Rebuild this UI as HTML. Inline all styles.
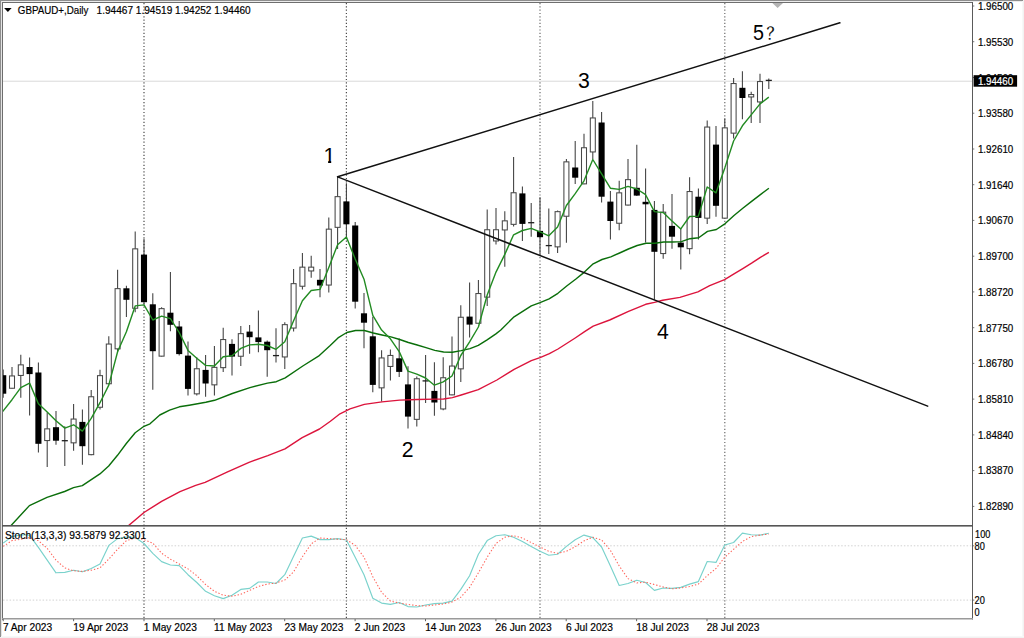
<!DOCTYPE html>
<html lang="en"><head><meta charset="utf-8"><title>GBPAUD+ Daily</title>
<style>
html,body{margin:0;padding:0;background:#fff;}
body{width:1024px;height:638px;overflow:hidden;}
svg{display:block;}
text{font-family:"Liberation Sans","Noto Sans CJK JP",sans-serif;fill:#000;}
.s{font-size:10.2px;stroke:#000;stroke-width:0.18px;}
.big{font-size:21.2px;}
.q{font-family:"Noto Serif CJK SC","Liberation Serif",serif;font-size:16px;stroke:#000;stroke-width:0.25px;}
</style></head><body>
<svg width="1024" height="638" viewBox="0 0 1024 638">
<rect x="0" y="0" width="1024" height="638" fill="#fff"/>

<rect x="1022" y="0" width="1" height="638" fill="#f8f8f8"/><rect x="1023" y="0" width="1" height="638" fill="#f2f2f2"/>
<rect x="0" y="636" width="1024" height="1" fill="#f8f8f8"/><rect x="0" y="637" width="1024" height="1" fill="#f2f2f2"/>
<rect x="0" y="0" width="1023" height="1" fill="#8e8e8e"/>
<rect x="0" y="0" width="1" height="637" fill="#8e8e8e"/>
<rect x="1" y="1" width="1021" height="1" fill="#ececec"/>
<rect x="1" y="1" width="1" height="635" fill="#e4e4e4"/>
<rect x="2" y="2" width="971" height="1" fill="#6e6e6e"/>
<rect x="2" y="2" width="1" height="618" fill="#6e6e6e"/>
<rect x="972" y="2" width="1" height="617.5" fill="#5a5a5a"/>
<rect x="2" y="618" width="971" height="1.5" fill="#9a9a9a"/>
<rect x="2" y="525" width="971" height="1.6" fill="#555"/>
<defs><clipPath id="cm"><rect x="3" y="3" width="969" height="522"/></clipPath><clipPath id="cs"><rect x="3" y="527" width="969" height="91"/></clipPath></defs>
<rect x="3" y="80.7" width="969" height="1" fill="#d9d9d9"/>
<line x1="144.0" y1="3" x2="144.0" y2="618" stroke="#4a4a4a" stroke-width="1.2" stroke-dasharray="1.2 2.1"/>
<line x1="346.4" y1="3" x2="346.4" y2="618" stroke="#4a4a4a" stroke-width="1.2" stroke-dasharray="1.2 2.1"/>
<line x1="540.0" y1="3" x2="540.0" y2="618" stroke="#6a6a6a" stroke-width="1.2" stroke-dasharray="1.2 2.1"/>
<line x1="724.8" y1="3" x2="724.8" y2="618" stroke="#6a6a6a" stroke-width="1.2" stroke-dasharray="1.2 2.1"/>
<line x1="3" y1="545.8" x2="972" y2="545.8" stroke="#d2d2d2" stroke-width="1" stroke-dasharray="1.5 1.8"/>
<line x1="3" y1="600.1" x2="972" y2="600.1" stroke="#d2d2d2" stroke-width="1" stroke-dasharray="1.5 1.8"/>
<g clip-path="url(#cm)">
<line x1="3.2" y1="369.4" x2="3.2" y2="397.8" stroke="#3d3d3d" stroke-width="1.05"/>
<rect x="0.15" y="375.2" width="6.1" height="18.5" fill="#000"/>
<line x1="12.0" y1="367" x2="12.0" y2="388.6" stroke="#3d3d3d" stroke-width="1.05"/>
<rect x="9.50" y="375.95" width="5.00" height="12.3" fill="#fff" stroke="#474747" stroke-width="1.05"/>
<line x1="20.8" y1="354.7" x2="20.8" y2="397.8" stroke="#3d3d3d" stroke-width="1.05"/>
<rect x="18.30" y="364.85" width="5.00" height="10.6" fill="#fff" stroke="#474747" stroke-width="1.05"/>
<line x1="29.6" y1="357.6" x2="29.6" y2="415.4" stroke="#3d3d3d" stroke-width="1.05"/>
<rect x="26.55" y="367.0" width="6.1" height="7.1" fill="#000"/>
<line x1="38.4" y1="362.5" x2="38.4" y2="452.4" stroke="#3d3d3d" stroke-width="1.05"/>
<rect x="35.35" y="372.5" width="6.1" height="71.3" fill="#000"/>
<line x1="47.2" y1="412.5" x2="47.2" y2="467" stroke="#3d3d3d" stroke-width="1.05"/>
<rect x="44.70" y="428.85" width="5.00" height="11.7" fill="#fff" stroke="#474747" stroke-width="1.05"/>
<line x1="56.0" y1="410.9" x2="56.0" y2="444.8" stroke="#3d3d3d" stroke-width="1.05"/>
<rect x="52.95" y="427.2" width="6.1" height="13.5" fill="#000"/>
<line x1="64.8" y1="426.2" x2="64.8" y2="466" stroke="#3d3d3d" stroke-width="1.05"/>
<line x1="61.75" y1="440.7" x2="67.85" y2="440.7" stroke="#1e1e1e" stroke-width="1.3"/>
<line x1="73.6" y1="404" x2="73.6" y2="450.7" stroke="#3d3d3d" stroke-width="1.05"/>
<rect x="71.10" y="419.05" width="5.00" height="23.8" fill="#fff" stroke="#474747" stroke-width="1.05"/>
<line x1="82.4" y1="409.5" x2="82.4" y2="464.7" stroke="#3d3d3d" stroke-width="1.05"/>
<rect x="79.35" y="421.9" width="6.1" height="24.3" fill="#000"/>
<line x1="91.2" y1="390" x2="91.2" y2="455.3" stroke="#3d3d3d" stroke-width="1.05"/>
<rect x="88.70" y="396.75" width="5.00" height="57.9" fill="#fff" stroke="#474747" stroke-width="1.05"/>
<line x1="100.0" y1="369.8" x2="100.0" y2="409.5" stroke="#3d3d3d" stroke-width="1.05"/>
<rect x="97.50" y="375.65" width="5.00" height="31.6" fill="#fff" stroke="#474747" stroke-width="1.05"/>
<line x1="108.8" y1="336.3" x2="108.8" y2="384.1" stroke="#3d3d3d" stroke-width="1.05"/>
<rect x="106.30" y="344.05" width="5.00" height="39.7" fill="#fff" stroke="#474747" stroke-width="1.05"/>
<line x1="117.6" y1="269.7" x2="117.6" y2="352" stroke="#3d3d3d" stroke-width="1.05"/>
<rect x="115.10" y="288.65" width="5.00" height="60.2" fill="#fff" stroke="#474747" stroke-width="1.05"/>
<line x1="126.4" y1="285.7" x2="126.4" y2="317" stroke="#3d3d3d" stroke-width="1.05"/>
<rect x="123.35" y="288.3" width="6.1" height="11.5" fill="#000"/>
<line x1="135.2" y1="231.5" x2="135.2" y2="312.2" stroke="#3d3d3d" stroke-width="1.05"/>
<rect x="132.70" y="248.85" width="5.00" height="59.4" fill="#fff" stroke="#474747" stroke-width="1.05"/>
<line x1="144.0" y1="238.7" x2="144.0" y2="304.3" stroke="#3d3d3d" stroke-width="1.05"/>
<rect x="140.95" y="254.6" width="6.1" height="47.6" fill="#000"/>
<line x1="152.8" y1="293.2" x2="152.8" y2="389.7" stroke="#3d3d3d" stroke-width="1.05"/>
<rect x="149.75" y="304.3" width="6.1" height="46.9" fill="#000"/>
<line x1="161.6" y1="307.3" x2="161.6" y2="356.5" stroke="#3d3d3d" stroke-width="1.05"/>
<rect x="159.10" y="308.65" width="5.00" height="47.5" fill="#fff" stroke="#474747" stroke-width="1.05"/>
<line x1="170.4" y1="272" x2="170.4" y2="331.3" stroke="#3d3d3d" stroke-width="1.05"/>
<rect x="167.35" y="312.7" width="6.1" height="12.1" fill="#000"/>
<line x1="179.2" y1="321" x2="179.2" y2="355.5" stroke="#3d3d3d" stroke-width="1.05"/>
<rect x="176.15" y="326.5" width="6.1" height="27.6" fill="#000"/>
<line x1="188.0" y1="341.5" x2="188.0" y2="395.5" stroke="#3d3d3d" stroke-width="1.05"/>
<rect x="184.95" y="355.6" width="6.1" height="33.3" fill="#000"/>
<line x1="196.8" y1="357.3" x2="196.8" y2="395.4" stroke="#3d3d3d" stroke-width="1.05"/>
<rect x="194.30" y="368.75" width="5.00" height="25.1" fill="#fff" stroke="#474747" stroke-width="1.05"/>
<line x1="205.6" y1="354.9" x2="205.6" y2="396.8" stroke="#3d3d3d" stroke-width="1.05"/>
<rect x="202.55" y="369.9" width="6.1" height="13.6" fill="#000"/>
<line x1="214.4" y1="346" x2="214.4" y2="395.4" stroke="#3d3d3d" stroke-width="1.05"/>
<rect x="211.90" y="367.35" width="5.00" height="17.5" fill="#fff" stroke="#474747" stroke-width="1.05"/>
<line x1="223.2" y1="327.8" x2="223.2" y2="371.9" stroke="#3d3d3d" stroke-width="1.05"/>
<rect x="220.70" y="339.55" width="5.00" height="28.1" fill="#fff" stroke="#474747" stroke-width="1.05"/>
<line x1="232.0" y1="339.3" x2="232.0" y2="375.4" stroke="#3d3d3d" stroke-width="1.05"/>
<rect x="228.95" y="343.9" width="6.1" height="12.7" fill="#000"/>
<line x1="240.8" y1="325.9" x2="240.8" y2="366" stroke="#3d3d3d" stroke-width="1.05"/>
<rect x="238.30" y="333.65" width="5.00" height="22.6" fill="#fff" stroke="#474747" stroke-width="1.05"/>
<line x1="249.6" y1="324.9" x2="249.6" y2="353.7" stroke="#3d3d3d" stroke-width="1.05"/>
<rect x="246.55" y="331.6" width="6.1" height="5.6" fill="#000"/>
<line x1="258.4" y1="310.6" x2="258.4" y2="352.3" stroke="#3d3d3d" stroke-width="1.05"/>
<rect x="255.35" y="337.4" width="6.1" height="4.7" fill="#000"/>
<line x1="267.2" y1="340.4" x2="267.2" y2="376.8" stroke="#3d3d3d" stroke-width="1.05"/>
<rect x="264.15" y="341.7" width="6.1" height="8.5" fill="#000"/>
<line x1="276.0" y1="328.2" x2="276.0" y2="362.6" stroke="#3d3d3d" stroke-width="1.05"/>
<line x1="272.95" y1="355.6" x2="279.05" y2="355.6" stroke="#1e1e1e" stroke-width="1.3"/>
<line x1="284.8" y1="322.3" x2="284.8" y2="369" stroke="#3d3d3d" stroke-width="1.05"/>
<rect x="282.30" y="324.65" width="5.00" height="32.3" fill="#fff" stroke="#474747" stroke-width="1.05"/>
<line x1="293.6" y1="269" x2="293.6" y2="331.6" stroke="#3d3d3d" stroke-width="1.05"/>
<rect x="291.10" y="283.65" width="5.00" height="44.4" fill="#fff" stroke="#474747" stroke-width="1.05"/>
<line x1="302.4" y1="252.9" x2="302.4" y2="289.4" stroke="#3d3d3d" stroke-width="1.05"/>
<rect x="299.90" y="267.15" width="5.00" height="19.1" fill="#fff" stroke="#474747" stroke-width="1.05"/>
<line x1="311.2" y1="255.7" x2="311.2" y2="277.8" stroke="#3d3d3d" stroke-width="1.05"/>
<rect x="308.70" y="267.15" width="5.00" height="3.8" fill="#fff" stroke="#474747" stroke-width="1.05"/>
<line x1="320.0" y1="269" x2="320.0" y2="297.2" stroke="#3d3d3d" stroke-width="1.05"/>
<rect x="316.95" y="279.8" width="6.1" height="5.7" fill="#000"/>
<line x1="328.8" y1="217.5" x2="328.8" y2="292.5" stroke="#3d3d3d" stroke-width="1.05"/>
<rect x="326.30" y="229.15" width="5.00" height="55.9" fill="#fff" stroke="#474747" stroke-width="1.05"/>
<line x1="337.6" y1="176.9" x2="337.6" y2="249" stroke="#3d3d3d" stroke-width="1.05"/>
<rect x="335.10" y="196.65" width="5.00" height="30.7" fill="#fff" stroke="#474747" stroke-width="1.05"/>
<line x1="346.4" y1="183.2" x2="346.4" y2="237" stroke="#3d3d3d" stroke-width="1.05"/>
<rect x="343.35" y="201.4" width="6.1" height="22.9" fill="#000"/>
<line x1="355.2" y1="222" x2="355.2" y2="308.6" stroke="#3d3d3d" stroke-width="1.05"/>
<rect x="352.15" y="225.5" width="6.1" height="76.2" fill="#000"/>
<line x1="364.0" y1="292.9" x2="364.0" y2="348.3" stroke="#3d3d3d" stroke-width="1.05"/>
<rect x="360.95" y="313.3" width="6.1" height="9.4" fill="#000"/>
<line x1="372.8" y1="316.8" x2="372.8" y2="392.3" stroke="#3d3d3d" stroke-width="1.05"/>
<rect x="369.75" y="336.3" width="6.1" height="48.6" fill="#000"/>
<line x1="381.6" y1="350.2" x2="381.6" y2="401.5" stroke="#3d3d3d" stroke-width="1.05"/>
<rect x="379.10" y="357.95" width="5.00" height="29.9" fill="#fff" stroke="#474747" stroke-width="1.05"/>
<line x1="390.4" y1="349.6" x2="390.4" y2="380.5" stroke="#3d3d3d" stroke-width="1.05"/>
<rect x="387.90" y="355.45" width="5.00" height="11.0" fill="#fff" stroke="#474747" stroke-width="1.05"/>
<line x1="399.2" y1="338.6" x2="399.2" y2="377" stroke="#3d3d3d" stroke-width="1.05"/>
<rect x="396.15" y="358.3" width="6.1" height="13.6" fill="#000"/>
<line x1="408.0" y1="366.2" x2="408.0" y2="428.5" stroke="#3d3d3d" stroke-width="1.05"/>
<rect x="404.95" y="384.4" width="6.1" height="32.2" fill="#000"/>
<line x1="416.8" y1="376.4" x2="416.8" y2="426.4" stroke="#3d3d3d" stroke-width="1.05"/>
<rect x="414.30" y="378.75" width="5.00" height="40.6" fill="#fff" stroke="#474747" stroke-width="1.05"/>
<line x1="425.6" y1="354.9" x2="425.6" y2="402.9" stroke="#3d3d3d" stroke-width="1.05"/>
<line x1="422.55" y1="380.9" x2="428.65" y2="380.9" stroke="#1e1e1e" stroke-width="1.3"/>
<line x1="434.4" y1="362.3" x2="434.4" y2="415.8" stroke="#3d3d3d" stroke-width="1.05"/>
<rect x="431.35" y="390.9" width="6.1" height="11.6" fill="#000"/>
<line x1="443.2" y1="357.3" x2="443.2" y2="410.3" stroke="#3d3d3d" stroke-width="1.05"/>
<rect x="440.70" y="377.75" width="5.00" height="31.2" fill="#fff" stroke="#474747" stroke-width="1.05"/>
<line x1="452.0" y1="336.5" x2="452.0" y2="395.2" stroke="#3d3d3d" stroke-width="1.05"/>
<rect x="449.50" y="366.05" width="5.00" height="28.8" fill="#fff" stroke="#474747" stroke-width="1.05"/>
<line x1="460.8" y1="305.3" x2="460.8" y2="381.9" stroke="#3d3d3d" stroke-width="1.05"/>
<rect x="458.30" y="317.25" width="5.00" height="51.6" fill="#fff" stroke="#474747" stroke-width="1.05"/>
<line x1="469.6" y1="282.5" x2="469.6" y2="337.6" stroke="#3d3d3d" stroke-width="1.05"/>
<rect x="466.55" y="316.6" width="6.1" height="8.0" fill="#000"/>
<line x1="478.4" y1="279.9" x2="478.4" y2="323.6" stroke="#3d3d3d" stroke-width="1.05"/>
<rect x="475.90" y="293.55" width="5.00" height="29.7" fill="#fff" stroke="#474747" stroke-width="1.05"/>
<line x1="487.2" y1="209.4" x2="487.2" y2="306" stroke="#3d3d3d" stroke-width="1.05"/>
<rect x="484.70" y="229.75" width="5.00" height="67.4" fill="#fff" stroke="#474747" stroke-width="1.05"/>
<line x1="496.0" y1="208" x2="496.0" y2="244.6" stroke="#3d3d3d" stroke-width="1.05"/>
<rect x="493.50" y="229.75" width="5.00" height="11.2" fill="#fff" stroke="#474747" stroke-width="1.05"/>
<line x1="504.8" y1="211.3" x2="504.8" y2="266.8" stroke="#3d3d3d" stroke-width="1.05"/>
<rect x="502.30" y="220.85" width="5.00" height="9.1" fill="#fff" stroke="#474747" stroke-width="1.05"/>
<line x1="513.6" y1="156.9" x2="513.6" y2="226.6" stroke="#3d3d3d" stroke-width="1.05"/>
<rect x="511.10" y="192.75" width="5.00" height="31.6" fill="#fff" stroke="#474747" stroke-width="1.05"/>
<line x1="522.4" y1="186.4" x2="522.4" y2="241.1" stroke="#3d3d3d" stroke-width="1.05"/>
<rect x="519.35" y="193.4" width="6.1" height="30.5" fill="#000"/>
<line x1="531.2" y1="202.9" x2="531.2" y2="236.8" stroke="#3d3d3d" stroke-width="1.05"/>
<line x1="528.15" y1="222.7" x2="534.25" y2="222.7" stroke="#1e1e1e" stroke-width="1.3"/>
<line x1="540.0" y1="197.2" x2="540.0" y2="254.4" stroke="#3d3d3d" stroke-width="1.05"/>
<rect x="536.95" y="230.9" width="6.1" height="6.3" fill="#000"/>
<line x1="548.8" y1="208.4" x2="548.8" y2="254" stroke="#3d3d3d" stroke-width="1.05"/>
<line x1="545.75" y1="245.6" x2="551.85" y2="245.6" stroke="#1e1e1e" stroke-width="1.3"/>
<line x1="557.6" y1="210.4" x2="557.6" y2="252.9" stroke="#3d3d3d" stroke-width="1.05"/>
<rect x="555.10" y="211.65" width="5.00" height="35.2" fill="#fff" stroke="#474747" stroke-width="1.05"/>
<line x1="566.4" y1="159.1" x2="566.4" y2="242.7" stroke="#3d3d3d" stroke-width="1.05"/>
<rect x="563.90" y="161.85" width="5.00" height="54.4" fill="#fff" stroke="#474747" stroke-width="1.05"/>
<line x1="575.2" y1="140.9" x2="575.2" y2="184" stroke="#3d3d3d" stroke-width="1.05"/>
<rect x="572.15" y="167.5" width="6.1" height="10.2" fill="#000"/>
<line x1="584.0" y1="133.7" x2="584.0" y2="184.3" stroke="#3d3d3d" stroke-width="1.05"/>
<rect x="581.50" y="147.75" width="5.00" height="36.1" fill="#fff" stroke="#474747" stroke-width="1.05"/>
<line x1="592.8" y1="101" x2="592.8" y2="159" stroke="#3d3d3d" stroke-width="1.05"/>
<rect x="590.30" y="117.95" width="5.00" height="34.0" fill="#fff" stroke="#474747" stroke-width="1.05"/>
<line x1="601.6" y1="112.1" x2="601.6" y2="202.5" stroke="#3d3d3d" stroke-width="1.05"/>
<rect x="598.55" y="122.5" width="6.1" height="74.2" fill="#000"/>
<line x1="610.4" y1="191" x2="610.4" y2="239.6" stroke="#3d3d3d" stroke-width="1.05"/>
<rect x="607.35" y="201.6" width="6.1" height="19.4" fill="#000"/>
<line x1="619.2" y1="180.8" x2="619.2" y2="230.3" stroke="#3d3d3d" stroke-width="1.05"/>
<rect x="616.70" y="192.85" width="5.00" height="30.4" fill="#fff" stroke="#474747" stroke-width="1.05"/>
<line x1="628.0" y1="159.1" x2="628.0" y2="205.4" stroke="#3d3d3d" stroke-width="1.05"/>
<rect x="625.50" y="179.65" width="5.00" height="25.4" fill="#fff" stroke="#474747" stroke-width="1.05"/>
<line x1="636.8" y1="144.8" x2="636.8" y2="196" stroke="#3d3d3d" stroke-width="1.05"/>
<rect x="633.75" y="187.8" width="6.1" height="7.8" fill="#000"/>
<line x1="645.6" y1="168.5" x2="645.6" y2="242.6" stroke="#3d3d3d" stroke-width="1.05"/>
<rect x="642.55" y="201.8" width="6.1" height="2.5" fill="#000"/>
<line x1="654.4" y1="201.1" x2="654.4" y2="299.8" stroke="#3d3d3d" stroke-width="1.05"/>
<rect x="651.35" y="209.9" width="6.1" height="41.9" fill="#000"/>
<line x1="663.2" y1="204" x2="663.2" y2="258.8" stroke="#3d3d3d" stroke-width="1.05"/>
<rect x="660.70" y="212.15" width="5.00" height="41.4" fill="#fff" stroke="#474747" stroke-width="1.05"/>
<line x1="672.0" y1="194" x2="672.0" y2="248.8" stroke="#3d3d3d" stroke-width="1.05"/>
<rect x="668.95" y="225.9" width="6.1" height="10.8" fill="#000"/>
<line x1="680.8" y1="227.9" x2="680.8" y2="269.6" stroke="#3d3d3d" stroke-width="1.05"/>
<rect x="677.75" y="242.6" width="6.1" height="4.7" fill="#000"/>
<line x1="689.6" y1="177.2" x2="689.6" y2="254.3" stroke="#3d3d3d" stroke-width="1.05"/>
<rect x="687.10" y="191.55" width="5.00" height="57.1" fill="#fff" stroke="#474747" stroke-width="1.05"/>
<line x1="698.4" y1="188.6" x2="698.4" y2="239.6" stroke="#3d3d3d" stroke-width="1.05"/>
<rect x="695.35" y="196.7" width="6.1" height="21.2" fill="#000"/>
<line x1="707.2" y1="120.4" x2="707.2" y2="224" stroke="#3d3d3d" stroke-width="1.05"/>
<rect x="704.70" y="127.05" width="5.00" height="91.1" fill="#fff" stroke="#474747" stroke-width="1.05"/>
<line x1="716.0" y1="126" x2="716.0" y2="216.7" stroke="#3d3d3d" stroke-width="1.05"/>
<rect x="712.95" y="144.6" width="6.1" height="61.2" fill="#000"/>
<line x1="724.8" y1="118.4" x2="724.8" y2="218.5" stroke="#3d3d3d" stroke-width="1.05"/>
<rect x="722.30" y="127.85" width="5.00" height="90.3" fill="#fff" stroke="#474747" stroke-width="1.05"/>
<line x1="733.6" y1="78.1" x2="733.6" y2="138.5" stroke="#3d3d3d" stroke-width="1.05"/>
<rect x="731.10" y="83.55" width="5.00" height="49.6" fill="#fff" stroke="#474747" stroke-width="1.05"/>
<line x1="742.4" y1="71.3" x2="742.4" y2="119.2" stroke="#3d3d3d" stroke-width="1.05"/>
<rect x="739.35" y="87.8" width="6.1" height="10.2" fill="#000"/>
<line x1="751.2" y1="91.8" x2="751.2" y2="123" stroke="#3d3d3d" stroke-width="1.05"/>
<rect x="748.70" y="94.55" width="5.00" height="2.4" fill="#fff" stroke="#474747" stroke-width="1.05"/>
<line x1="760.0" y1="73.8" x2="760.0" y2="123" stroke="#3d3d3d" stroke-width="1.05"/>
<rect x="757.50" y="81.55" width="5.00" height="20.4" fill="#fff" stroke="#474747" stroke-width="1.05"/>
<line x1="768.8" y1="78.5" x2="768.8" y2="89" stroke="#3d3d3d" stroke-width="1.05"/>
<line x1="765.75" y1="80.4" x2="771.85" y2="80.4" stroke="#1e1e1e" stroke-width="1.3"/>
<polyline fill="none" stroke="#dc143c" stroke-width="1.4" stroke-linejoin="round" points="120.0,534.0 128.3,525.8 144.0,512.5 161.6,501.3 180.0,491.7 195.7,485.4 205.1,482.3 227.0,472.1 249.0,462.4 267.8,455.6 285.0,448.9 302.2,437.6 319.5,429.0 330.4,421.2 340.0,413.8 350.0,408.9 364.3,404.4 382.0,401.9 399.6,400.1 417.2,399.5 434.8,399.1 443.6,399.0 452.4,397.6 461.2,395.0 478.3,389.7 496.9,380.0 514.1,369.3 531.3,360.7 540.0,357.6 549.4,353.7 558.0,349.0 575.2,338.0 584.6,331.7 593.2,326.2 609.7,320.0 628.5,311.3 645.7,304.3 654.5,302.4 662.7,300.2 679.9,297.4 697.9,291.9 709.7,285.7 724.6,279.6 734.0,273.9 742.8,268.6 751.6,263.1 760.4,257.3 768.9,252.4"/>
<polyline fill="none" stroke="#0a6e0a" stroke-width="1.4" stroke-linejoin="round" points="-2.0,541.0 3.0,534.0 10.8,525.8 29.4,505.6 47.0,497.4 64.6,491.5 73.5,487.6 82.3,485.6 99.9,473.9 108.7,466.0 117.5,455.3 126.3,443.5 135.2,432.7 144.0,426.3 150.0,423.8 159.8,415.0 169.6,410.1 179.4,406.8 189.2,405.2 205.8,402.3 214.6,400.3 232.3,393.5 249.9,387.6 267.5,383.1 276.3,381.7 285.2,377.8 302.8,366.0 318.5,356.2 330.2,345.5 338.0,337.9 346.8,332.5 355.6,330.5 364.4,330.5 373.2,333.0 382.0,335.0 390.9,336.9 399.7,339.5 408.4,342.5 417.2,345.0 426.0,347.7 434.8,350.4 443.6,352.0 452.4,352.3 461.2,350.6 470.0,348.6 478.3,345.3 487.1,339.8 495.9,333.9 500.8,330.0 514.1,316.8 531.3,305.9 540.0,302.7 549.1,298.9 557.9,293.3 566.7,286.0 575.6,279.2 584.4,272.1 593.2,263.8 602.0,259.5 610.8,256.8 619.6,253.0 628.4,249.0 637.2,245.5 646.0,243.3 654.8,243.2 663.7,242.0 672.5,242.0 681.3,241.6 689.9,238.7 698.7,237.7 707.5,231.4 716.4,229.5 725.2,223.6 734.0,215.5 742.8,208.3 751.6,201.4 760.4,194.6 768.9,188.3"/>
<polyline fill="none" stroke="#228b22" stroke-width="1.4" stroke-linejoin="round" points="-5.2,418.0 3.2,410.9 12.0,399.7 20.8,387.6 29.6,383.1 38.4,403.7 47.2,412.1 56.0,420.7 64.8,428.1 73.6,424.8 82.4,431.1 91.2,418.4 100.0,402.7 108.8,385.1 117.6,351.8 126.4,331.8 135.2,305.9 144.0,304.9 152.8,320.0 161.6,316.1 170.4,318.6 179.2,332.5 188.0,350.4 196.8,358.2 205.6,365.4 214.4,366.0 223.2,356.8 232.0,355.8 240.8,348.4 249.6,344.9 258.4,344.3 267.2,345.5 276.0,349.3 284.8,341.7 293.6,320.8 302.4,300.7 311.2,290.5 320.0,289.4 328.8,267.4 337.6,244.7 346.4,237.0 355.2,259.0 364.0,279.2 372.8,315.4 381.6,330.1 390.4,338.8 399.2,351.6 408.0,371.1 416.8,374.1 425.6,378.0 434.4,385.2 443.2,381.9 452.0,376.0 460.8,355.5 469.6,341.8 478.4,327.0 487.2,295.0 496.0,272.1 504.8,254.4 513.6,234.8 522.4,230.5 531.2,228.4 540.0,231.9 548.8,235.8 557.6,227.0 566.4,205.5 575.2,193.7 584.0,180.8 592.8,159.5 601.6,173.8 610.4,188.2 619.2,189.4 628.0,186.4 636.8,189.0 645.6,194.7 654.4,211.6 663.2,212.6 672.0,221.0 680.8,228.9 689.6,216.5 698.4,216.1 707.2,187.0 716.0,192.8 724.8,167.9 733.6,141.0 742.4,125.8 751.2,114.9 760.0,103.9 768.8,97.1"/>
<line x1="337.6" y1="176.8" x2="839.9" y2="22.8" stroke="#111" stroke-width="1.5" stroke-linecap="round"/>
<line x1="337.6" y1="176.9" x2="927.7" y2="406.1" stroke="#111" stroke-width="1.5" stroke-linecap="round"/>
<polygon points="772.3,3 783,3 777.6,8" fill="#b4b4b4"/>
</g>
<g clip-path="url(#cs)">
<polyline fill="none" stroke="#7ad2cc" stroke-width="1.15" stroke-linejoin="round" points="3.2,543.1 12.0,536.6 20.8,534.7 29.6,535.3 38.4,547.4 47.2,560.1 56.0,572.8 64.8,572.4 73.6,570.2 82.4,571.8 91.2,568.5 100.0,564.0 108.8,545.4 117.6,538.6 126.4,537.0 135.2,537.6 144.0,543.5 152.8,553.3 161.6,561.6 170.4,565.0 179.2,565.6 188.0,574.7 196.8,582.5 205.6,591.3 214.4,595.8 223.2,598.6 232.0,595.2 240.8,589.4 249.6,588.4 258.4,582.0 267.2,582.0 276.0,583.5 284.8,574.7 293.6,556.2 302.4,538.0 311.2,536.1 320.0,539.6 328.8,539.6 337.6,538.6 346.4,540.0 355.2,557.2 364.0,574.7 372.8,598.2 381.6,603.1 390.4,604.4 399.2,602.5 408.0,606.6 416.8,607.0 425.6,605.0 434.4,603.6 443.2,603.1 452.0,601.1 460.8,589.4 469.6,575.7 478.4,554.2 487.2,540.6 496.0,535.7 504.8,534.7 513.6,537.2 522.4,541.5 531.2,546.4 540.0,551.3 548.8,555.2 557.6,554.2 566.4,546.4 575.2,539.7 584.0,535.1 592.8,537.6 601.6,547.0 610.4,565.9 619.2,585.5 628.0,583.5 636.8,580.2 645.6,582.5 654.4,590.4 663.2,588.0 672.0,588.4 680.8,587.4 689.6,584.1 698.4,581.6 707.2,561.5 716.0,562.4 724.8,545.0 733.6,542.5 742.4,533.1 751.2,534.7 760.0,535.1 768.8,533.3"/>
<polyline fill="none" stroke="#ff6258" stroke-width="1.05" stroke-dasharray="1.4 1.9" points="3.2,546.4 12.0,540.6 20.8,539.2 29.6,537.6 38.4,540.6 47.2,548.4 56.0,560.1 64.8,567.9 73.6,570.8 82.4,571.4 91.2,570.2 100.0,567.9 108.8,559.1 117.6,549.3 126.4,540.6 135.2,538.0 144.0,539.6 152.8,543.1 161.6,553.3 170.4,559.1 179.2,564.0 188.0,568.9 196.8,575.7 205.6,584.5 214.4,591.3 223.2,595.2 232.0,596.2 240.8,594.3 249.6,590.4 258.4,586.5 267.2,584.1 276.0,583.1 284.8,580.0 293.6,571.8 302.4,556.8 311.2,543.9 320.0,538.0 328.8,538.6 337.6,539.2 346.4,539.6 355.2,545.4 364.0,557.2 372.8,576.7 381.6,592.3 390.4,601.1 399.2,603.1 408.0,604.4 416.8,605.6 425.6,606.0 434.4,605.0 443.2,604.0 452.0,602.1 460.8,597.2 469.6,587.4 478.4,572.8 487.2,557.2 496.0,543.5 504.8,537.2 513.6,535.7 522.4,538.0 531.2,542.5 540.0,547.0 548.8,551.3 557.6,553.3 566.4,551.3 575.2,546.7 584.0,540.9 592.8,537.2 601.6,540.0 610.4,550.3 619.2,565.9 628.0,578.6 636.8,582.9 645.6,582.2 654.4,584.5 663.2,587.0 672.0,588.8 680.8,588.0 689.6,586.5 698.4,584.1 707.2,575.7 716.0,568.5 724.8,557.2 733.6,549.3 742.4,541.5 751.2,536.6 760.0,535.1 768.8,534.1"/>
</g>
<polygon points="4.1,8 11.6,8 7.85,11.9" fill="#000"/>
<text class="s" x="17.8" y="13.9" textLength="70.6" lengthAdjust="spacingAndGlyphs">GBPAUD+,Daily</text>
<text class="s" x="96.6" y="13.9" textLength="154.1" lengthAdjust="spacingAndGlyphs">1.94467 1.94519 1.94252 1.94460</text>
<text class="s" x="4.9" y="539.3" textLength="141.2" lengthAdjust="spacingAndGlyphs">Stoch(13,3,3) 93.5879 92.3301</text>
<rect x="2.7" y="619" width="1" height="2.2" fill="#666"/>
<text class="s" x="2.9" y="631.3">7 Apr 2023</text>
<rect x="73.1" y="619" width="1" height="2.2" fill="#666"/>
<text class="s" x="73.3" y="631.3">19 Apr 2023</text>
<rect x="143.5" y="619" width="1" height="2.2" fill="#666"/>
<text class="s" x="143.7" y="631.3">1 May 2023</text>
<rect x="213.8" y="619" width="1" height="2.2" fill="#666"/>
<text class="s" x="214.0" y="631.3">11 May 2023</text>
<rect x="284.2" y="619" width="1" height="2.2" fill="#666"/>
<text class="s" x="284.4" y="631.3">23 May 2023</text>
<rect x="354.6" y="619" width="1" height="2.2" fill="#666"/>
<text class="s" x="354.8" y="631.3">2 Jun 2023</text>
<rect x="425.0" y="619" width="1" height="2.2" fill="#666"/>
<text class="s" x="425.2" y="631.3">14 Jun 2023</text>
<rect x="495.4" y="619" width="1" height="2.2" fill="#666"/>
<text class="s" x="495.6" y="631.3">26 Jun 2023</text>
<rect x="565.7" y="619" width="1" height="2.2" fill="#666"/>
<text class="s" x="565.9" y="631.3">6 Jul 2023</text>
<rect x="636.1" y="619" width="1" height="2.2" fill="#666"/>
<text class="s" x="636.3" y="631.3">18 Jul 2023</text>
<rect x="706.5" y="619" width="1" height="2.2" fill="#666"/>
<text class="s" x="706.7" y="631.3">28 Jul 2023</text>
<rect x="973" y="5.5" width="1.3" height="1" fill="#777"/>
<text class="s" x="977.9" y="9.8" textLength="35.4" lengthAdjust="spacingAndGlyphs">1.96500</text>
<rect x="973" y="41.2" width="1.3" height="1" fill="#777"/>
<text class="s" x="977.9" y="45.5" textLength="35.4" lengthAdjust="spacingAndGlyphs">1.95530</text>
<rect x="973" y="77.0" width="1.3" height="1" fill="#777"/>
<text class="s" x="977.9" y="82.0" textLength="35.4" lengthAdjust="spacingAndGlyphs">1.94560</text>
<rect x="973" y="112.7" width="1.3" height="1" fill="#777"/>
<text class="s" x="977.9" y="117.0" textLength="35.4" lengthAdjust="spacingAndGlyphs">1.93580</text>
<rect x="973" y="148.5" width="1.3" height="1" fill="#777"/>
<text class="s" x="977.9" y="152.8" textLength="35.4" lengthAdjust="spacingAndGlyphs">1.92610</text>
<rect x="973" y="184.2" width="1.3" height="1" fill="#777"/>
<text class="s" x="977.9" y="188.5" textLength="35.4" lengthAdjust="spacingAndGlyphs">1.91640</text>
<rect x="973" y="219.9" width="1.3" height="1" fill="#777"/>
<text class="s" x="977.9" y="224.2" textLength="35.4" lengthAdjust="spacingAndGlyphs">1.90670</text>
<rect x="973" y="255.7" width="1.3" height="1" fill="#777"/>
<text class="s" x="977.9" y="260.0" textLength="35.4" lengthAdjust="spacingAndGlyphs">1.89700</text>
<rect x="973" y="291.4" width="1.3" height="1" fill="#777"/>
<text class="s" x="977.9" y="295.7" textLength="35.4" lengthAdjust="spacingAndGlyphs">1.88720</text>
<rect x="973" y="327.2" width="1.3" height="1" fill="#777"/>
<text class="s" x="977.9" y="331.5" textLength="35.4" lengthAdjust="spacingAndGlyphs">1.87750</text>
<rect x="973" y="362.9" width="1.3" height="1" fill="#777"/>
<text class="s" x="977.9" y="367.2" textLength="35.4" lengthAdjust="spacingAndGlyphs">1.86780</text>
<rect x="973" y="398.6" width="1.3" height="1" fill="#777"/>
<text class="s" x="977.9" y="402.9" textLength="35.4" lengthAdjust="spacingAndGlyphs">1.85810</text>
<rect x="973" y="434.4" width="1.3" height="1" fill="#777"/>
<text class="s" x="977.9" y="438.7" textLength="35.4" lengthAdjust="spacingAndGlyphs">1.84840</text>
<rect x="973" y="470.1" width="1.3" height="1" fill="#777"/>
<text class="s" x="977.9" y="474.4" textLength="35.4" lengthAdjust="spacingAndGlyphs">1.83870</text>
<rect x="973" y="505.9" width="1.3" height="1" fill="#777"/>
<text class="s" x="977.9" y="510.2" textLength="35.4" lengthAdjust="spacingAndGlyphs">1.82890</text>
<rect x="973.6" y="75.2" width="43.5" height="11.5" fill="#000"/>
<text class="s" x="977.9" y="84.7" textLength="35.2" lengthAdjust="spacingAndGlyphs" style="fill:#fff;stroke:#fff">1.94460</text>
<text class="s" x="975.1" y="537.9" textLength="15.3" lengthAdjust="spacingAndGlyphs">100</text>
<text class="s" x="974.6" y="549.7" textLength="10.3" lengthAdjust="spacingAndGlyphs">80</text>
<text class="s" x="974.6" y="604.2" textLength="10.3" lengthAdjust="spacingAndGlyphs">20</text>
<text class="s" x="974.6" y="616.1" textLength="5.1" lengthAdjust="spacingAndGlyphs">0</text>
<rect x="973" y="545.3" width="1.3" height="1" fill="#777"/>
<rect x="973" y="599.6" width="1.3" height="1" fill="#777"/>
<defs><clipPath id="c1"><path d="M318 140 H340 V160.9 H331.2 V166 H328.1 V160.9 H318 Z"/></clipPath></defs>
<text class="big" x="329.3" y="163.3" text-anchor="middle" clip-path="url(#c1)">1</text>
<text class="big" x="407.75" y="457" text-anchor="middle">2</text>
<text class="big" x="584" y="87.9" text-anchor="middle">3</text>
<text class="big" x="662.9" y="339" text-anchor="middle">4</text>
<text class="big" transform="translate(758.4,40.1) scale(0.93,1)" text-anchor="middle">5</text>
<text class="q" x="766.4" y="39.2">？</text>
</svg></body></html>
